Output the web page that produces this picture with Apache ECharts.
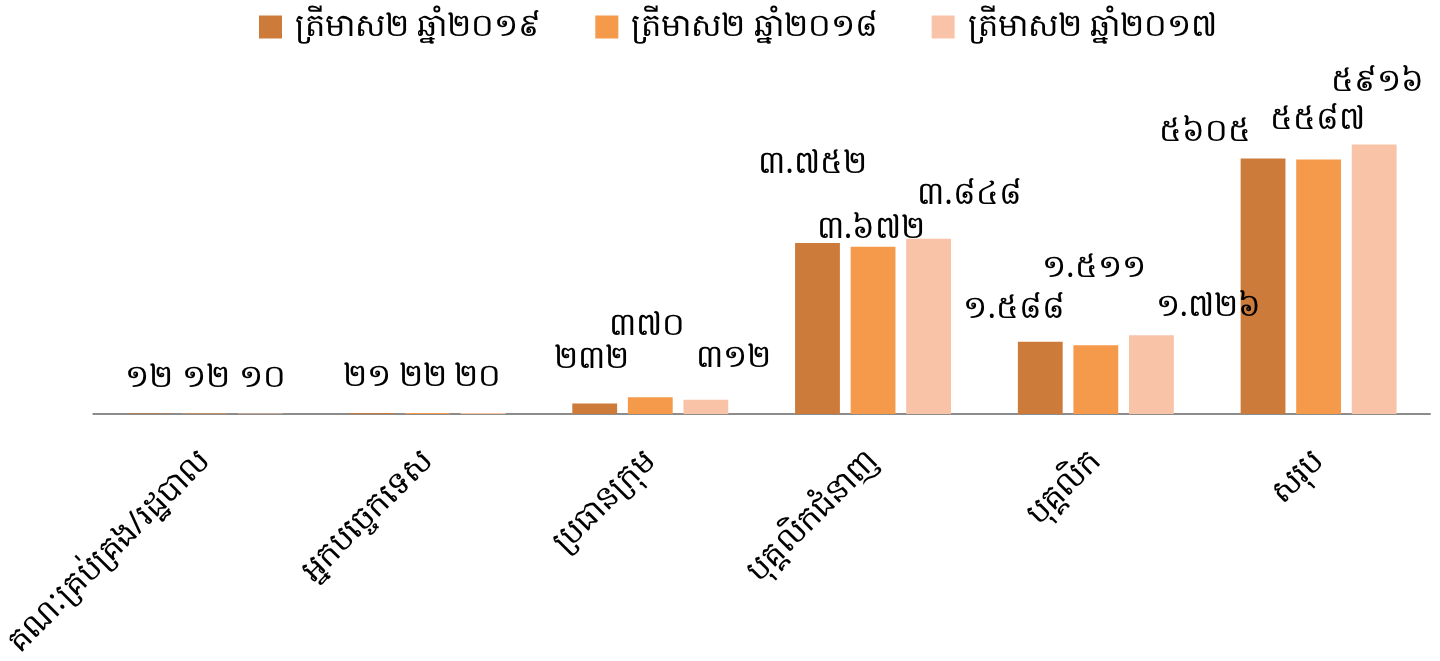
<!DOCTYPE html>
<html>
<head>
<meta charset="utf-8">
<script src="https://cdn.jsdelivr.net/npm/echarts@6/dist/echarts.min.js"></script>
<style>
  html, body { margin: 0; padding: 0; background: #fff; }
  #chart { width: 1440px; height: 661px; }
</style>
</head>
<body>
<div id="chart"></div>
<script>
var categories = ['គណៈគ្រប់គ្រង/រដ្ឋបាល', 'អ្នកបច្ចេកទេស', 'ប្រធានក្រុម', 'បុគ្គលិកជំនាញ', 'បុគ្គលិក', 'សរុប']
var seriesNames = ['ត្រីមាស២ ឆ្នាំ២០១៩', 'ត្រីមាស២ ឆ្នាំ២០១៨', 'ត្រីមាស២ ឆ្នាំ២០១៧']
var q2019 = [12, 21, 232, 3752, 1588, 5605]
var q2018 = [12, 22, 370, 3672, 1511, 5587]
var q2017 = [10, 20, 312, 3848, 1726, 5916]
var labels2019 = ['១២', '២១', '២៣២', '៣.៧៥២', '១.៥៨៨', '៥៦០៥']
var labels2018 = ['១២', '២២', '៣៧០', '៣.៦៧២', '១.៥១១', '៥៥៨៧']
var labels2017 = ['១០', '២០', '៣១២', '៣.៨៤៨', '១.៧២៦', '៥៩១៦']

// label nudges, roughly where the original chart put them
var offsets2019 = [[0, -15], [-5, -15], [-3, -24], [-5, -58], [-26, -12], [-58, -6]]
var offsets2018 = [[1, -15], [-4, -15], [-3, -50], [-2, 3], [-2, -56], [-1, -19]]
var offsets2017 = [[2, -15], [-6, -15], [28, -21], [41, -23], [57, -7], [3, -42]]

var colors = ['#CC7B3A', '#F5994A', '#F9C3A8']
var font = '"Noto Sans", "DejaVu Sans", sans-serif'

function makeSeries(name, values, labels, offsets, color) {
  return {
    name: name,
    type: 'bar',
    barGap: '24%',
    barCategoryGap: '30%',
    itemStyle: { color: color },
    data: values.map(function(v, i) {
      return {
        value: v,
        label: {
          show: true,
          position: 'top',
          distance: 5,
          offset: offsets[i],
          formatter: labels[i],
          color: '#000',
          fontSize: 32,
          fontFamily: font
        }
      }
    })
  }
}

var option = {
  animation: false,
  color: colors,
  legend: {
    top: 6,
    left: 254,
    itemWidth: 23,
    itemHeight: 23,
    itemGap: 54,
    icon: 'rect',
    textStyle: { fontSize: 32, color: '#000', fontFamily: font, padding: [0, 0, 0, 8] },
    data: seriesNames
  },
  grid: {
    top: 95,
    left: 90,
    right: 10,
    bottom: 246,
    containLabel: false
  },
  xAxis: {
    type: 'category',
    data: categories,
    axisLine: { show: true, lineStyle: { color: '#8c8c8c', width: 2 } },
    axisTick: { show: false },
    axisLabel: {
      rotate: 45,
      margin: 42,
      interval: 0,
      color: '#000',
      fontSize: 32,
      fontFamily: font
    }
  },
  yAxis: {
    type: 'value',
    min: 0,
    max: 7000,
    show: false,
    splitLine: { show: false }
  },
  series: [
    makeSeries(seriesNames[0], q2019, labels2019, offsets2019, colors[0]),
    makeSeries(seriesNames[1], q2018, labels2018, offsets2018, colors[1]),
    makeSeries(seriesNames[2], q2017, labels2017, offsets2017, colors[2])
  ]
}

var chart = echarts.init(document.getElementById('chart'))
chart.setOption(option)
window.addEventListener('resize', function() {
  chart.resize()
})
</script>
</body>
</html>
